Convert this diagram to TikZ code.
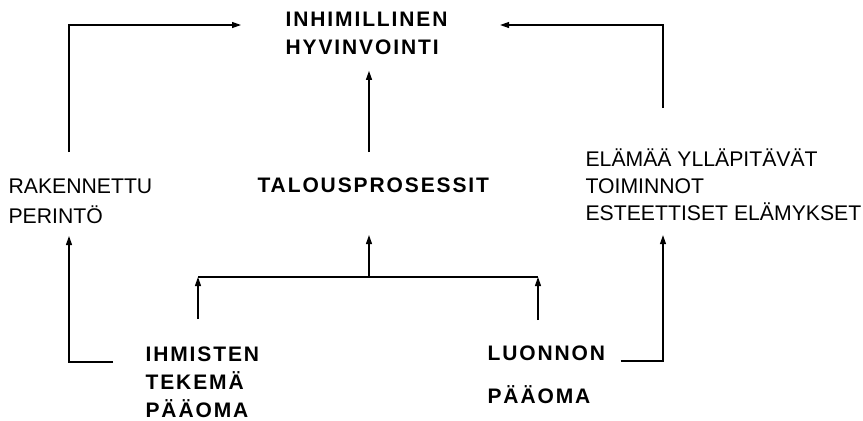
\documentclass[tikz,border=0pt]{standalone}
\usepackage{fontspec}
\setmainfont{Liberation Sans}
\newfontfamily\widebold[LetterSpace=9]{Liberation Sans}
\usetikzlibrary{arrows.meta}

\begin{document}
\begin{tikzpicture}[x=0.5pt,y=-0.5pt,line width=0.6pt]
			\tikzstyle{every node}+=[inner sep=0pt,anchor=north west,align=left]
			\tikzstyle{plain}=[font=\fontsize{10.6}{15}\selectfont]
			\tikzstyle{heavy}=[font=\widebold\bfseries\fontsize{10.5}{14}\selectfont]
			\tikzstyle{arr}=[-{Triangle[length=4.5pt,width=3pt]}]
			\useasboundingbox (0,0) rectangle (863,420);

			\node [heavy] (hyv) at (285,11) {INHIMILLINEN\\HYVINVOINTI};
			\node [plain] (rak) at (8,178) {RAKENNETTU\\PERINTÖ};
			\node [heavy] (talous) at (257,177) {TALOUSPROSESSIT};
			\node [plain] (elam) at (585,148) {ELÄMÄÄ YLLÄPITÄVÄT\\[-1.5pt]TOIMINNOT\\[-1.5pt]ESTEETTISET ELÄMYKSET};
			\node [heavy] (ihm) at (145,346) {IHMISTEN\\TEKEMÄ\\PÄÄOMA};
			\node [heavy] (luo) at (487,345) {LUONNON\\[7.5pt]PÄÄOMA};

			\coordinate (tl) at (69,25);
			\coordinate (tr) at (663,25);
			\coordinate (jl) at (198,277);
			\coordinate (mid) at (369,277);
			\coordinate (jr) at (538,277);
			\coordinate (bl) at (69,362);
			\coordinate (br) at (663,361);

			% upper half
			\draw [arr,shorten <=13pt,shorten >=22pt] (rak.north -| tl) -- (tl) -- (hyv.west |- tl);
			\draw [arr,shorten <=20pt,shorten >=26pt] (elam.north -| tr) -- (tr) -- (hyv.east |- tr);
			\draw [arr,shorten <=12.5pt,shorten >=8pt] (talous.north -| mid) -- (mid |- hyv.south);

			% lower half
			\draw (jl) -- (jr);
			\draw [arr,shorten >=21pt] (mid) -- (mid |- talous.south);
			\draw [arr,shorten <=13.5pt] (ihm.north -| jl) -- (jl);
			\draw [arr,shorten <=12.5pt] (luo.north -| jr) -- (jr);
			\draw [arr,shorten <=16pt,shorten >=6pt] (ihm.north west |- bl) -- (bl) -- (bl |- rak.south);
			\draw [arr,shorten <=7.5pt,shorten >=7pt] (luo.north east |- br) -- (br) -- (br |- elam.south);
\end{tikzpicture}
\end{document}
